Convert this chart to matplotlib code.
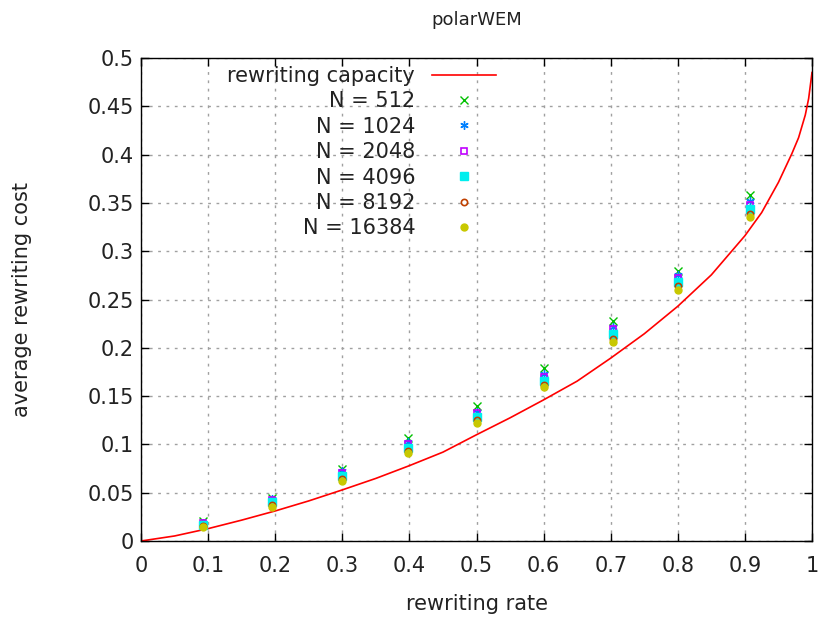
import numpy as np
import matplotlib
matplotlib.use('Agg')
import matplotlib.pyplot as plt

# rewriting capacity curve
cap_rate = [0.0, 0.05, 0.1, 0.15, 0.2, 0.25, 0.3, 0.35, 0.4, 0.45, 0.5, 0.55, 0.6,
            0.65, 0.7, 0.75, 0.8, 0.85, 0.9, 0.925, 0.95, 0.97, 0.98, 0.99, 0.995, 1.0]
cap_cost = [0.0, 0.0052, 0.0128, 0.0216, 0.0311, 0.0415, 0.0529, 0.0648, 0.078, 0.092,
            0.110, 0.1275, 0.1461, 0.1655, 0.1893, 0.2145, 0.243, 0.2755, 0.316, 0.340,
            0.3713, 0.401, 0.4175, 0.441, 0.458, 0.485]

# measured points
rates = [0.0925, 0.195, 0.30, 0.398, 0.50, 0.60, 0.703, 0.80, 0.907]
cost_512 = [0.021, 0.045, 0.075, 0.107, 0.140, 0.179, 0.228, 0.280, 0.358]
cost_1024 = [0.019, 0.043, 0.072, 0.102, 0.134, 0.173, 0.222, 0.275, 0.352]
cost_2048 = [0.019, 0.042, 0.070, 0.100, 0.132, 0.170, 0.219, 0.272, 0.348]
cost_4096 = [0.017, 0.040, 0.067, 0.096, 0.128, 0.166, 0.214, 0.268, 0.344]
cost_8192 = [0.016, 0.037, 0.064, 0.093, 0.125, 0.162, 0.209, 0.264, 0.339]
cost_16384 = [0.015, 0.035, 0.062, 0.091, 0.122, 0.159, 0.206, 0.260, 0.335]

xticks = np.arange(0, 1.01, 0.1)
yticks = np.arange(0, 0.501, 0.05)
xticklabels = ['0', '0.1', '0.2', '0.3', '0.4', '0.5', '0.6', '0.7', '0.8', '0.9', '1']
yticklabels = ['0', '0.05', '0.1', '0.15', '0.2', '0.25', '0.3', '0.35', '0.4', '0.45', '0.5']

txt = '#222222'
fs = 15
fig = plt.figure(figsize=(8.22, 6.20), dpi=100)
ax = fig.add_axes([141/822, 1-541/620, 671/822, 483/620])

ax.plot(cap_rate, cap_cost, color='#ff0000', lw=1.2, label='rewriting capacity')
ax.plot(rates, cost_512, ls='none', marker='x', ms=6, mew=1, color='#00c000', label='N = 512')
ax.plot(rates, cost_1024, ls='none', marker=(6, 2, 0), ms=6, mew=1, color='#0080ff', label='N = 1024')
ax.plot(rates, cost_2048, ls='none', marker='s', ms=5, mew=1.2, mfc='none', color='#c000ff', label='N = 2048')
ax.plot(rates, cost_4096, ls='none', marker='s', ms=5.5, color='#00eeee', label='N = 4096')
ax.plot(rates, cost_8192, ls='none', marker='o', ms=4.5, mew=1.2, mfc='none', color='#c04000', label='N = 8192')
ax.plot(rates, cost_16384, ls='none', marker='o', ms=5, color='#c8c800', label='N = 16384')

ax.set_xlim(0, 1)
ax.set_ylim(0, 0.5)
ax.set_xticks(xticks)
ax.set_xticklabels(xticklabels)
ax.set_yticks(yticks)
ax.set_yticklabels(yticklabels)
ax.tick_params(direction='in', top=True, right=True, length=6, width=1,
               labelsize=fs, labelcolor=txt)
ax.tick_params(axis='x', pad=11)
ax.tick_params(axis='y', pad=5)
ax.grid(True, color='#a0a0a0', ls=(0, (2, 4)), lw=1)
for s in ax.spines.values():
    s.set_linewidth(1)
    s.set_color('black')

ax.set_xlabel('rewriting rate', fontsize=fs, color=txt)
ax.xaxis.label.set_va('center')
ax.xaxis.set_label_coords(0.5, (541-604)/483)
ax.set_ylabel('average rewriting cost', fontsize=fs, color=txt)
ax.yaxis.label.set_va('center')
ax.yaxis.set_label_coords((22-141)/671, 0.5)
ax.set_title('polarWEM', fontsize=13, color=txt, pad=24)

leg = ax.legend(loc='upper right', bbox_to_anchor=(0.5415, 1.0), frameon=False,
                markerfirst=False, numpoints=1, fontsize=fs, handlelength=3.1,
                labelspacing=0.26, handletextpad=0.8, borderaxespad=0.0, borderpad=0.38)
for t in leg.get_texts():
    t.set_ha('right')
    t.set_color(txt)
leg._legend_box.align = 'right'

fig.savefig('out.png', dpi=100)
